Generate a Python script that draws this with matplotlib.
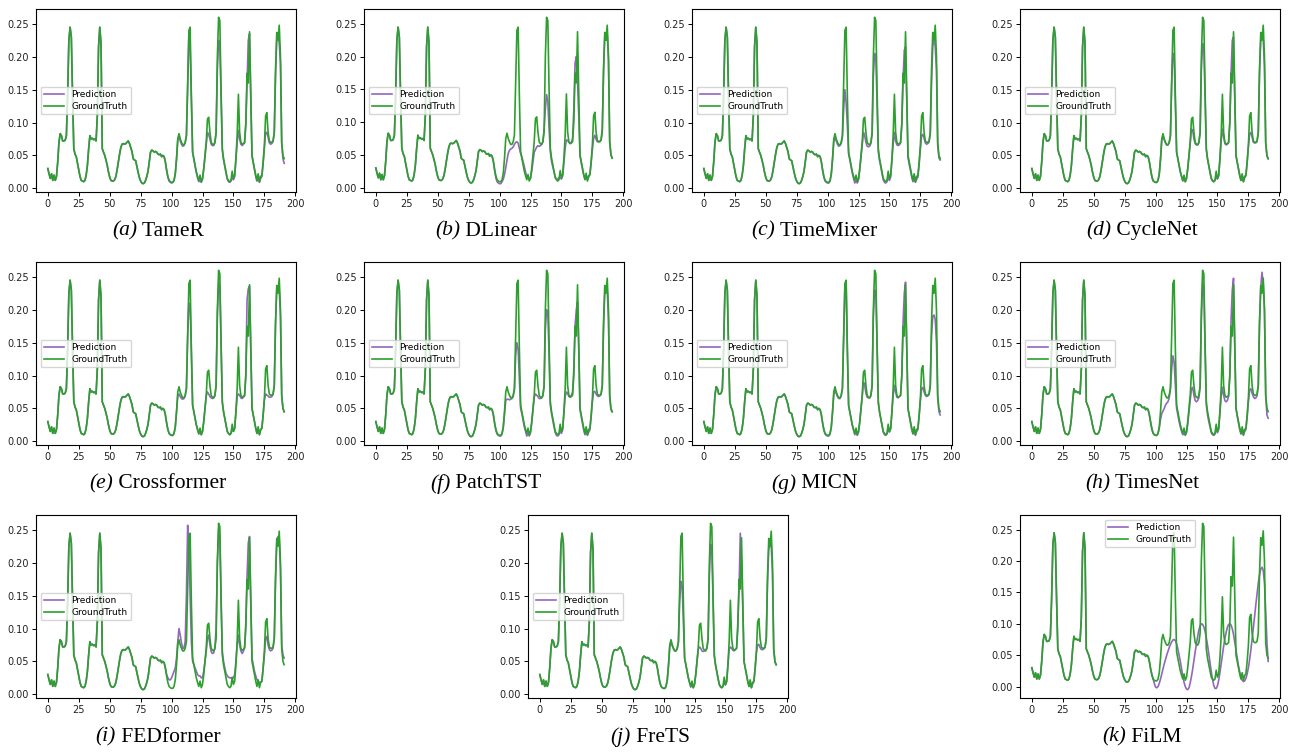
import numpy as np
import matplotlib
matplotlib.use("Agg")
import matplotlib.pyplot as plt

# input window (shared by ground truth and prediction)
gt_input = [0.030, 0.022, 0.015, 0.022, 0.012, 0.020, 0.012, 0.018, 0.040, 0.070, 0.083, 0.080,
            0.072, 0.072, 0.073, 0.080, 0.140, 0.225, 0.245, 0.230, 0.140, 0.060, 0.052, 0.048,
            0.038, 0.028, 0.018, 0.012, 0.011, 0.010, 0.012, 0.020, 0.035, 0.060, 0.080, 0.075,
            0.076, 0.074, 0.075, 0.072, 0.110, 0.215, 0.245, 0.220, 0.060, 0.055, 0.050, 0.043,
            0.035, 0.025, 0.017, 0.012, 0.011, 0.011, 0.013, 0.018, 0.028, 0.040, 0.052, 0.062,
            0.067, 0.068, 0.067, 0.068, 0.070, 0.072, 0.068, 0.062, 0.056, 0.045, 0.043, 0.042,
            0.033, 0.024, 0.016, 0.011, 0.008, 0.007, 0.008, 0.012, 0.018, 0.026, 0.040, 0.055,
            0.058, 0.057, 0.055, 0.056, 0.055, 0.052, 0.051, 0.052, 0.048, 0.050, 0.048, 0.040]

# forecast horizon, steps 96-191
gt_horizon = [0.028, 0.018, 0.012, 0.010, 0.009, 0.009, 0.012, 0.022, 0.045, 0.075, 0.083, 0.075,
              0.070, 0.066, 0.066, 0.070, 0.080, 0.160, 0.240, 0.245, 0.140, 0.055, 0.045, 0.035,
              0.025, 0.018, 0.012, 0.020, 0.010, 0.015, 0.030, 0.050, 0.070, 0.105, 0.108, 0.085,
              0.070, 0.067, 0.066, 0.070, 0.085, 0.200, 0.260, 0.255, 0.150, 0.060, 0.045, 0.035,
              0.025, 0.015, 0.012, 0.010, 0.012, 0.026, 0.015, 0.020, 0.045, 0.080, 0.143, 0.085,
              0.070, 0.067, 0.068, 0.070, 0.100, 0.175, 0.160, 0.238, 0.140, 0.050, 0.040, 0.030,
              0.020, 0.012, 0.022, 0.010, 0.018, 0.020, 0.040, 0.065, 0.110, 0.115, 0.085, 0.072,
              0.070, 0.070, 0.072, 0.085, 0.180, 0.237, 0.225, 0.248, 0.200, 0.070, 0.050, 0.045]

pred_tamer = [0.027, 0.017, 0.011, 0.009, 0.008, 0.009, 0.012, 0.022, 0.044, 0.073, 0.080, 0.072,
              0.067, 0.064, 0.065, 0.069, 0.080, 0.150, 0.235, 0.215, 0.135, 0.055, 0.044, 0.034,
              0.024, 0.016, 0.010, 0.012, 0.009, 0.014, 0.029, 0.048, 0.068, 0.085, 0.082, 0.075,
              0.067, 0.065, 0.065, 0.069, 0.084, 0.180, 0.225, 0.215, 0.140, 0.058, 0.043, 0.033,
              0.023, 0.014, 0.010, 0.009, 0.011, 0.016, 0.013, 0.018, 0.043, 0.070, 0.088, 0.075,
              0.067, 0.065, 0.067, 0.069, 0.095, 0.160, 0.225, 0.235, 0.135, 0.049, 0.038, 0.028,
              0.018, 0.011, 0.014, 0.009, 0.015, 0.018, 0.038, 0.062, 0.085, 0.085, 0.078, 0.069,
              0.067, 0.068, 0.071, 0.084, 0.170, 0.225, 0.235, 0.220, 0.190, 0.068, 0.045, 0.038]

pred_dlinear = [0.026, 0.015, 0.009, 0.007, 0.006, 0.006, 0.009, 0.013, 0.020, 0.030, 0.042, 0.052,
                0.057, 0.059, 0.060, 0.062, 0.066, 0.069, 0.070, 0.068, 0.060, 0.052, 0.047, 0.040,
                0.032, 0.024, 0.016, 0.016, 0.012, 0.014, 0.025, 0.040, 0.054, 0.058, 0.062, 0.064,
                0.063, 0.064, 0.066, 0.070, 0.090, 0.120, 0.142, 0.132, 0.090, 0.055, 0.040, 0.032,
                0.024, 0.016, 0.013, 0.013, 0.015, 0.015, 0.013, 0.018, 0.038, 0.060, 0.073, 0.072,
                0.069, 0.068, 0.069, 0.075, 0.120, 0.190, 0.200, 0.160, 0.110, 0.048, 0.038, 0.028,
                0.019, 0.013, 0.014, 0.012, 0.016, 0.020, 0.038, 0.058, 0.075, 0.080, 0.074, 0.070,
                0.070, 0.071, 0.073, 0.090, 0.175, 0.230, 0.225, 0.235, 0.195, 0.070, 0.050, 0.045]

pred_timemixer = [0.027, 0.017, 0.011, 0.009, 0.008, 0.008, 0.011, 0.021, 0.043, 0.070, 0.078, 0.072,
                  0.067, 0.064, 0.065, 0.068, 0.078, 0.120, 0.150, 0.130, 0.095, 0.052, 0.043, 0.033,
                  0.023, 0.015, 0.008, 0.012, 0.008, 0.013, 0.028, 0.047, 0.067, 0.085, 0.080, 0.070,
                  0.064, 0.063, 0.064, 0.068, 0.082, 0.170, 0.205, 0.200, 0.130, 0.055, 0.042, 0.033,
                  0.022, 0.013, 0.009, 0.008, 0.010, 0.016, 0.012, 0.017, 0.042, 0.068, 0.085, 0.072,
                  0.066, 0.065, 0.066, 0.069, 0.095, 0.165, 0.210, 0.215, 0.130, 0.046, 0.036, 0.027,
                  0.017, 0.010, 0.014, 0.009, 0.014, 0.017, 0.036, 0.060, 0.080, 0.082, 0.076, 0.069,
                  0.067, 0.068, 0.070, 0.082, 0.160, 0.215, 0.230, 0.215, 0.180, 0.065, 0.046, 0.043]

pred_cyclenet = [0.028, 0.017, 0.011, 0.010, 0.009, 0.009, 0.012, 0.022, 0.044, 0.073, 0.080, 0.074,
                 0.069, 0.066, 0.066, 0.069, 0.079, 0.160, 0.205, 0.200, 0.130, 0.055, 0.045, 0.035,
                 0.025, 0.018, 0.011, 0.014, 0.010, 0.015, 0.030, 0.049, 0.069, 0.090, 0.088, 0.075,
                 0.068, 0.066, 0.066, 0.069, 0.084, 0.180, 0.220, 0.215, 0.140, 0.059, 0.044, 0.034,
                 0.024, 0.015, 0.011, 0.010, 0.012, 0.018, 0.014, 0.019, 0.044, 0.072, 0.090, 0.078,
                 0.068, 0.066, 0.067, 0.069, 0.100, 0.175, 0.225, 0.230, 0.135, 0.049, 0.039, 0.029,
                 0.019, 0.012, 0.015, 0.010, 0.016, 0.019, 0.039, 0.063, 0.082, 0.085, 0.078, 0.070,
                 0.069, 0.069, 0.071, 0.084, 0.175, 0.225, 0.232, 0.225, 0.185, 0.068, 0.049, 0.045]

pred_crossformer = [0.028, 0.018, 0.012, 0.010, 0.009, 0.009, 0.012, 0.022, 0.044, 0.068, 0.072, 0.068,
                    0.065, 0.064, 0.065, 0.069, 0.080, 0.160, 0.210, 0.205, 0.135, 0.055, 0.045, 0.035,
                    0.025, 0.018, 0.011, 0.014, 0.010, 0.015, 0.030, 0.049, 0.069, 0.075, 0.072, 0.068,
                    0.066, 0.065, 0.066, 0.069, 0.084, 0.190, 0.240, 0.235, 0.145, 0.059, 0.045, 0.035,
                    0.025, 0.015, 0.012, 0.010, 0.012, 0.018, 0.015, 0.020, 0.044, 0.068, 0.072, 0.070,
                    0.066, 0.065, 0.067, 0.069, 0.100, 0.215, 0.232, 0.236, 0.140, 0.050, 0.040, 0.030,
                    0.020, 0.012, 0.016, 0.010, 0.017, 0.020, 0.040, 0.063, 0.072, 0.070, 0.069, 0.067,
                    0.067, 0.068, 0.071, 0.084, 0.178, 0.230, 0.235, 0.230, 0.190, 0.069, 0.050, 0.045]

pred_patchtst = [0.027, 0.017, 0.011, 0.009, 0.008, 0.008, 0.011, 0.021, 0.042, 0.062, 0.064, 0.064,
                 0.063, 0.064, 0.065, 0.068, 0.078, 0.130, 0.150, 0.140, 0.095, 0.050, 0.042, 0.032,
                 0.022, 0.015, 0.008, 0.012, 0.008, 0.013, 0.028, 0.047, 0.067, 0.072, 0.070, 0.068,
                 0.065, 0.065, 0.066, 0.069, 0.083, 0.170, 0.200, 0.195, 0.130, 0.055, 0.042, 0.032,
                 0.022, 0.013, 0.009, 0.008, 0.010, 0.016, 0.012, 0.017, 0.042, 0.068, 0.075, 0.073,
                 0.068, 0.068, 0.070, 0.075, 0.110, 0.175, 0.200, 0.212, 0.140, 0.048, 0.037, 0.027,
                 0.017, 0.010, 0.014, 0.009, 0.014, 0.017, 0.037, 0.060, 0.075, 0.076, 0.072, 0.069,
                 0.068, 0.069, 0.071, 0.083, 0.170, 0.225, 0.235, 0.230, 0.185, 0.067, 0.048, 0.045]

pred_micn = [0.027, 0.017, 0.011, 0.009, 0.008, 0.008, 0.011, 0.021, 0.043, 0.070, 0.078, 0.073,
             0.068, 0.065, 0.065, 0.069, 0.080, 0.160, 0.235, 0.240, 0.138, 0.054, 0.044, 0.034,
             0.024, 0.017, 0.010, 0.014, 0.009, 0.014, 0.029, 0.048, 0.068, 0.090, 0.085, 0.073,
             0.067, 0.066, 0.066, 0.069, 0.084, 0.190, 0.230, 0.228, 0.145, 0.058, 0.044, 0.034,
             0.024, 0.014, 0.010, 0.009, 0.011, 0.018, 0.014, 0.019, 0.044, 0.070, 0.085, 0.075,
             0.067, 0.066, 0.068, 0.070, 0.100, 0.180, 0.225, 0.242, 0.140, 0.049, 0.038, 0.028,
             0.018, 0.011, 0.015, 0.009, 0.015, 0.018, 0.038, 0.062, 0.080, 0.082, 0.075, 0.070,
             0.068, 0.069, 0.071, 0.084, 0.160, 0.190, 0.192, 0.185, 0.150, 0.065, 0.045, 0.040]

pred_timesnet = [0.030, 0.020, 0.013, 0.010, 0.009, 0.009, 0.012, 0.020, 0.033, 0.042, 0.046, 0.050,
                 0.055, 0.058, 0.060, 0.066, 0.080, 0.110, 0.130, 0.120, 0.085, 0.050, 0.040, 0.030,
                 0.022, 0.015, 0.010, 0.012, 0.009, 0.013, 0.026, 0.045, 0.062, 0.080, 0.082, 0.070,
                 0.062, 0.060, 0.062, 0.066, 0.082, 0.185, 0.240, 0.235, 0.140, 0.055, 0.040, 0.030,
                 0.022, 0.013, 0.010, 0.009, 0.011, 0.018, 0.013, 0.018, 0.042, 0.068, 0.082, 0.070,
                 0.062, 0.060, 0.062, 0.068, 0.100, 0.185, 0.230, 0.248, 0.145, 0.050, 0.038, 0.028,
                 0.018, 0.011, 0.014, 0.009, 0.015, 0.018, 0.036, 0.060, 0.078, 0.080, 0.073, 0.068,
                 0.065, 0.066, 0.069, 0.085, 0.180, 0.235, 0.257, 0.240, 0.200, 0.070, 0.040, 0.035]

pred_fedformer = [0.030, 0.025, 0.022, 0.022, 0.025, 0.030, 0.035, 0.040, 0.055, 0.080, 0.100, 0.090,
                  0.078, 0.070, 0.070, 0.080, 0.150, 0.257, 0.230, 0.150, 0.080, 0.050, 0.045, 0.040,
                  0.035, 0.030, 0.028, 0.028, 0.025, 0.025, 0.035, 0.050, 0.065, 0.085, 0.090, 0.075,
                  0.065, 0.062, 0.063, 0.070, 0.100, 0.200, 0.250, 0.240, 0.140, 0.065, 0.050, 0.040,
                  0.032, 0.028, 0.026, 0.025, 0.025, 0.025, 0.025, 0.030, 0.050, 0.075, 0.090, 0.075,
                  0.066, 0.062, 0.065, 0.072, 0.110, 0.180, 0.230, 0.240, 0.140, 0.055, 0.045, 0.035,
                  0.028, 0.022, 0.020, 0.018, 0.018, 0.020, 0.040, 0.060, 0.085, 0.088, 0.075, 0.068,
                  0.066, 0.067, 0.070, 0.085, 0.170, 0.230, 0.240, 0.235, 0.190, 0.075, 0.060, 0.055]

pred_frets = [0.028, 0.018, 0.012, 0.010, 0.009, 0.009, 0.012, 0.022, 0.044, 0.072, 0.080, 0.074,
              0.069, 0.066, 0.066, 0.069, 0.079, 0.140, 0.172, 0.165, 0.110, 0.055, 0.045, 0.035,
              0.025, 0.018, 0.011, 0.014, 0.010, 0.015, 0.030, 0.049, 0.068, 0.072, 0.070, 0.066,
              0.065, 0.066, 0.067, 0.070, 0.084, 0.180, 0.228, 0.220, 0.140, 0.058, 0.044, 0.034,
              0.024, 0.015, 0.011, 0.010, 0.012, 0.018, 0.014, 0.019, 0.044, 0.068, 0.072, 0.070,
              0.067, 0.066, 0.068, 0.070, 0.110, 0.160, 0.245, 0.200, 0.130, 0.050, 0.040, 0.030,
              0.020, 0.012, 0.015, 0.010, 0.016, 0.019, 0.039, 0.063, 0.075, 0.076, 0.071, 0.068,
              0.068, 0.069, 0.071, 0.084, 0.170, 0.220, 0.228, 0.225, 0.185, 0.068, 0.049, 0.045]

pred_film = [0.028, 0.020, 0.012, 0.005, -0.001, -0.002, 0.000, 0.005, 0.012, 0.020, 0.028, 0.036,
             0.043, 0.050, 0.056, 0.062, 0.067, 0.071, 0.074, 0.075, 0.073, 0.068, 0.060, 0.050,
             0.040, 0.028, 0.017, 0.007, 0.000, -0.004, -0.005, -0.002, 0.006, 0.016, 0.028, 0.042,
             0.055, 0.068, 0.080, 0.090, 0.097, 0.100, 0.099, 0.095, 0.088, 0.078, 0.066, 0.052,
             0.038, 0.024, 0.012, 0.002, -0.003, -0.003, 0.001, 0.010, 0.022, 0.036, 0.050, 0.064,
             0.076, 0.086, 0.094, 0.099, 0.100, 0.098, 0.092, 0.083, 0.071, 0.058, 0.045, 0.033,
             0.023, 0.015, 0.010, 0.008, 0.009, 0.013, 0.020, 0.030, 0.043, 0.058, 0.075, 0.093,
             0.112, 0.130, 0.148, 0.165, 0.178, 0.187, 0.190, 0.185, 0.165, 0.120, 0.070, 0.040]

letters = ['a', 'b', 'c', 'd', 'e', 'f', 'g', 'h', 'i', 'j', 'k']
models = ['TameR', 'DLinear', 'TimeMixer', 'CycleNet', 'Crossformer', 'PatchTST',
          'MICN', 'TimesNet', 'FEDformer', 'FreTS', 'FiLM']
preds = [pred_tamer, pred_dlinear, pred_timemixer, pred_cyclenet, pred_crossformer,
         pred_patchtst, pred_micn, pred_timesnet, pred_fedformer, pred_frets, pred_film]

W, H = 1296, 753
fig = plt.figure(figsize=(12.96, 7.53), dpi=100)

# axes boxes in pixels: left, top
col_x = [36, 364, 692, 1020]
row_y = [9, 262, 515]
boxes = []
for r in range(2):
    for c in range(4):
        boxes.append((col_x[c], row_y[r]))
boxes += [(36, 515), (528, 515), (1020, 515)]
aw, ah = 260, 183

gt = np.array(gt_input + gt_horizon)

captions = []
for i in range(11):
    lx, ty = boxes[i]
    ax = fig.add_axes([lx / W, 1 - (ty + ah) / H, aw / W, ah / H])
    pred = np.array(gt_input + preds[i])
    ax.plot(pred, color='#9467bd', lw=1.2, label='Prediction')
    ax.plot(gt, color='#2ca02c', lw=1.2, label='GroundTruth')
    ax.set_xticks([0, 25, 50, 75, 100, 125, 150, 175, 200])
    ax.set_yticks([0.0, 0.05, 0.10, 0.15, 0.20, 0.25])
    ax.tick_params(labelsize=7, length=3, width=0.7, pad=2, labelcolor='#222222')
    for s in ax.spines.values():
        s.set_linewidth(0.8)
    if models[i] == 'FiLM':
        ax.legend(loc='upper center', fontsize=6.5, handlelength=2.2, borderpad=0.4, labelspacing=0.3)
    else:
        ax.legend(loc='center left', fontsize=6.5, handlelength=2.2, borderpad=0.4, labelspacing=0.3)
    cx = (lx + aw / 2 - 8) / W
    cy = 1 - (ty + ah + 39) / H
    t1 = fig.text(cx, cy, '(' + letters[i] + ')', ha='left', va='center',
                  fontsize=15.5, family='Liberation Serif', style='italic')
    t2 = fig.text(cx, cy, ' ' + models[i], ha='left', va='center',
                  fontsize=15.5, family='Liberation Serif')
    captions.append((t1, t2, cx))

# centre the two-part captions
renderer = fig.canvas.get_renderer()
for t1, t2, cx in captions:
    w1 = t1.get_window_extent(renderer).width / W
    w2 = t2.get_window_extent(renderer).width / W
    x0 = cx - (w1 + w2) / 2
    t1.set_x(x0)
    t2.set_x(x0 + w1)

fig.savefig('out.png', dpi=100)
